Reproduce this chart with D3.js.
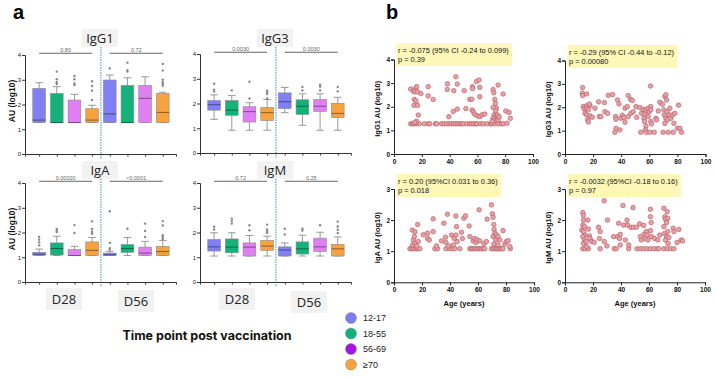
<!DOCTYPE html>
<html>
<head>
<meta charset="UTF-8" />
<script src="https://d3js.org/d3.v7.min.js"></script>
<style>
  body { margin: 0; background: #fff; }
  svg { font-family: "Liberation Sans", Arial, sans-serif; }
</style>
</head>
<body>
<svg width="717" height="377"></svg>
<script>
const groups = ["12-17", "18-55", "56-69", "≥70"];
const boxColors = ["#8080f4", "#13b27b", "#e07ff4", "#f8a23f"];
const legendColors = ["#7d7cf0", "#12b07c", "#a314e0", "#f8a13f"];
const timepoints = ["D28", "D56"];
const isotypes = ["IgG1", "IgG3", "IgA", "IgM"];

// [low whisker, q1, median, q3, high whisker] ; 4 age groups at D28, then 4 at D56
const boxIgG1 = [[1.27,1.27,1.37,2.65,2.88],[1.27,1.27,1.27,2.45,2.72],[1.27,1.27,1.27,2.18,2.41],[1.27,1.27,1.37,1.83,1.97],
                 [1.27,1.27,1.62,2.99,3.19],[1.27,1.27,1.27,2.77,3.08],[1.27,1.27,2.25,2.77,3.12],[1.27,1.27,1.68,2.45,2.5]];
const outIgG1 = [[],[3.33,3.02,2.9,2.83],[3.15,3.02,2.85,2.79],[2.94,2.75,2.56,2.18],
                 [3.46],[3.69,3.39,3.33],[],[3.64,3.37,3.0,2.9,2.83,2.76]];
const boxIgG3 = [[1.36,1.73,1.95,2.12,2.35],[0.92,1.52,1.73,2.12,2.32],[0.92,1.25,1.67,1.87,2.03],[0.92,1.31,1.63,1.84,2.16],
                 [1.63,1.79,2.07,2.43,2.65],[1.12,1.56,1.89,2.15,2.39],[0.92,1.68,1.89,2.16,2.39],[0.92,1.43,1.6,2.01,2.25]];
const outIgG3 = [[2.8,2.56,2.48],[2.53],[2.88,2.2],[2.52,2.45,2.38,2.2],
                 [],[2.67,2.53],[2.76,2.68,2.53],[2.67,2.49]];
const boxIgA = [[1.07,1.08,1.12,1.2,1.33],[1.07,1.09,1.35,1.58,1.85],[1.07,1.07,1.07,1.31,1.44],[1.07,1.07,1.28,1.62,1.8],
                [1.07,1.07,1.1,1.17,1.24],[1.07,1.2,1.35,1.51,1.8],[1.07,1.07,1.17,1.41,1.64],[1.07,1.07,1.23,1.44,1.68]];
const outIgA = [[1.82,1.71,1.6,1.48],[2.14,2.07,2.02],[2.3,1.98],[2.45,2.14,2.03,1.95],
                [2.86,1.58,1.37,1.31],[2.15],[2.36,2.06,1.82],[2.46,2.28,1.89,1.82,1.74]];
const boxIgM = [[1.05,1.25,1.42,1.72,1.99],[1.05,1.18,1.41,1.74,1.99],[1.05,1.05,1.41,1.58,1.88],[1.05,1.28,1.45,1.68,1.85],
                [1.05,1.05,1.29,1.42,1.58],[1.05,1.13,1.34,1.62,1.89],[1.05,1.23,1.42,1.77,2.01],[1.05,1.05,1.34,1.52,1.82]];
const outIgM = [[2.23,2.12],[2.56,2.46,2.36],[2.29,2.09],[2.32,2.12,2.04,1.99],
                [2.15,1.92],[2.15,2.08],[2.29],[2.44,2.24,2.11,1.98]];
const pIgG1 = ["0.80", "0.72"];
const pIgG3 = ["0.0030", "0.0030"];
const pIgA = ["0.00020", "<0.0001"];
const pIgM = ["0.72", "0.25"];
const boxTicks = [0, 1, 2, 3, 4];

// correlation with age: [age, log10 AU]
const scatIgG1 = [[12,1.28],[13.4,1.28],[14.6,1.28],[16.3,1.28],[18.2,1.28],[21.8,1.28],[24.6,1.28],[25.8,1.28],[29.9,1.28],[30.6,1.28],
  [34.2,1.28],[35.9,1.28],[37.8,1.28],[39.5,1.28],[40.9,1.28],[42.6,1.28],[44,1.28],[45.5,1.28],[46.9,1.28],[48.6,1.28],[49.8,1.28],
  [52.2,1.28],[54.5,1.28],[55.7,1.28],[57.4,1.28],[58.9,1.28],[59.8,1.28],[62.2,1.28],[64.1,1.28],[67,1.28],[69.6,1.28],[70.3,1.28],
  [72.5,1.28],[74.9,1.28],[77.3,1.28],[78.5,1.28],
  [12,2.75],[13.9,2.66],[15.6,2.77],[16.3,2.85],[15,2.63],[17,2.63],[19.4,2.56],[14.6,2.31],[15.8,2.25],[14.4,2.06],[17,2.06],
  [17.5,1.65],[16.3,1.38],[15,1.34],[24.6,2.85],[24.6,2.46],[28.2,2.31],[38.5,2.97],[38.3,2.73],[39.5,1.58],[42.6,1.8],[43,2.68],
  [44.5,3.27],[45.5,2.96],[45.5,1.9],[50.5,2.68],[51.7,1.92],[54.5,2.31],[56,2.32],[56.5,2.85],[56.5,2.77],[56.2,1.86],[57,1.79],
  [57.9,1.69],[59.3,3.07],[61.2,3.13],[61.7,2.82],[61.7,2.42],[59.8,1.62],[61.7,1.58],[63.4,1.66],[65.3,1.69],[71.3,2.73],[71.8,2.59],
  [72.5,2.31],[73,2.14],[73.7,1.93],[74.9,2.92],[71.3,1.97],[73,1.82],[72,1.65],[73.2,1.58],[74.4,1.65],[71.3,1.51],[71.8,1.41],
  [74.9,1.44],[70.6,1.38],[75.6,1.58],[78.5,2.54],[80.4,1.82],[82.8,1.76],[83.7,1.51],[81.3,1.3]];
const scatIgG3 = [[12.6,2.84],[12.3,2.6],[12.6,2.5],[15.4,2.57],[13,2.03],[13.7,1.93],[15.2,2.06],[15.4,1.96],[16.6,1.89],[14.2,1.74],
  [15.4,1.67],[17.8,2.07],[17.8,1.63],[16.1,1.46],[16.6,1.37],[19.4,1.57],[17.3,2.14],[21.3,1.96],[23.9,2.23],[24.4,1.6],[25.6,1.6],
  [28,2.2],[28.4,1.81],[30.8,2.51],[30.3,1.74],[33.9,2.54],[35.5,0.93],[36.3,1.1],[36,1.6],[36.3,1.49],[37.4,2.31],[38.4,2.14],
  [39.1,1.03],[39.8,1.53],[40.8,1.66],[42,1.56],[42.7,1.36],[42.7,1.96],[44.3,2.03],[45,2.5],[45,1.6],[46.7,2.34],[47.9,2.29],
  [46.9,1.74],[48.6,1.81],[50.5,2.03],[51,1.57],[53.3,1.99],[54.5,1.74],[54,0.93],[55.7,1.91],[56.2,1.53],[56.6,1.39],[56.9,1.71],
  [57.6,1.89],[57.6,1.2],[57.3,1.03],[58,0.93],[59.2,1.96],[59.2,1.6],[59.9,1.81],[60.9,2.03],[60.9,2.91],[61.1,1.89],[61.1,1.39],
  [61.6,1.29],[60.4,0.93],[63.5,0.93],[64.7,1.53],[65.2,1.46],[66.4,1.84],[67.5,2.21],[69.4,2.13],[69.9,0.93],[70.4,1.89],[71.1,2.46],
  [71.8,2.53],[72.3,2.31],[70.6,1.67],[71.8,1.53],[72.7,1.81],[73,1.46],[71.1,1.31],[73.5,0.93],[74.2,1.67],[74.6,1.96],[75.4,1.53],
  [76.5,1.67],[77,0.93],[77.5,1.31],[78.2,1.74],[80.8,2.09],[80.1,1.1],[81.8,1.1],[82.9,0.93]];
const scatIgA = [[11.4,1.08],[12.6,1.08],[13.8,1.08],[15,1.08],[16.2,1.08],[17.3,1.08],[18.5,1.08],[29.2,1.08],[31.1,1.08],[37.1,1.08],
  [39.9,1.08],[41.8,1.08],[43.5,1.08],[47,1.08],[54.2,1.08],[55.3,1.08],[56.5,1.08],[57.7,1.08],[58.9,1.08],[60.1,1.08],[61.3,1.08],
  [62.5,1.08],[63.7,1.08],[64.8,1.08],[69.6,1.08],[70.8,1.08],[72,1.08],[73.2,1.08],[74.3,1.08],[75.5,1.08],[76.7,1.08],[77.9,1.08],
  [83.1,1.08],
  [13.1,1.68],[13.8,1.36],[14.5,1.47],[15,1.62],[13.3,1.2],[15,1.25],[16.2,1.17],[16.9,1.86],[17.3,1.31],[20.9,1.53],[24,1.58],
  [24,1.41],[25.2,1.36],[28,2.04],[28,1.63],[30.4,1.17],[33.9,1.33],[35.6,1.9],[36.8,1.45],[38.2,2.19],[37.1,1.28],[38.9,1.17],
  [41.1,1.52],[42.3,1.2],[43,1.41],[44.2,2.13],[44.7,1.79],[44.2,1.52],[45.1,1.31],[48.2,1.61],[48.9,1.41],[49.9,2.06],[51.1,2.14],
  [53.7,1.81],[54.2,1.47],[56.5,1.33],[57.7,1.41],[58.4,1.28],[59.4,1.36],[60.8,2.33],[61.3,1.33],[64.4,1.25],[66,1.31],[66.5,2.03],
  [69.6,2.49],[70.3,2.2],[70.8,2.09],[71.3,1.86],[71.5,1.7],[72,1.58],[70.8,1.47],[72.7,1.36],[73.2,1.52],[74.3,1.47],[71.3,1.23],
  [74.3,1.2],[75.5,1.36],[77.9,1.66],[79.1,1.23],[80.3,1.31],[81.5,1.34],[82.7,1.15]];
const scatIgM = [[12.7,1.08],[14.4,1.08],[16.7,1.08],[25.1,1.08],[35.2,1.08],[36.6,1.08],[45.5,1.08],[51.4,1.08],[53.8,1.08],[56.2,1.08],
  [58.6,1.08],[61,1.08],[63.4,1.08],[65.8,1.08],[67,1.08],[70.6,1.08],[73,1.08],[75.4,1.08],[77.8,1.08],
  [12.7,2.24],[13.2,2.15],[13.2,2.0],[12.7,1.84],[12,1.68],[13.2,1.63],[13.9,1.79],[14.4,1.52],[12.7,1.47],[13.9,1.36],[13.2,1.25],
  [15.1,1.31],[15.6,1.15],[16.3,2.0],[16.7,1.71],[17.5,1.49],[17.9,1.41],[19.1,1.31],[20.8,1.29],[23.9,1.77],[25.1,1.63],[24.6,1.41],
  [28,2.62],[28,1.31],[30.4,2.0],[29.9,1.17],[34.7,1.47],[37.6,1.47],[38.3,1.9],[39,1.41],[39.5,1.54],[39.5,1.2],[41.4,2.47],
  [41.9,1.84],[43.1,1.36],[44.3,2.0],[44.7,1.84],[45.5,1.2],[47.1,1.77],[48.6,2.4],[49,1.77],[51,1.77],[53.3,1.88],[53.8,1.47],
  [54.5,1.36],[56.2,1.83],[56.7,1.55],[57.4,1.41],[58.1,1.63],[58.6,1.52],[59.3,1.36],[61,2.35],[61,2.11],[61.5,1.92],[61,1.66],
  [61.7,1.47],[63.9,1.41],[66.3,1.36],[67.7,1.52],[70.6,2.38],[71.3,2.11],[71.8,2.03],[72.5,1.92],[73,2.27],[73.4,2.06],[70.6,1.79],
  [71.1,1.57],[72.5,1.47],[71.8,1.36],[73.4,1.63],[74.2,1.44],[73.7,1.25],[77.3,1.74],[77.8,1.63],[81.3,1.7],[80.1,1.28],[83,1.36],[84,1.33]];
const statIgG1 = ["r = -0.075 (95% CI -0.24 to 0.099)", "p = 0.39"];
const statIgG3 = ["r = -0.29 (95% CI -0.44 to -0.12)", "p = 0.00080"];
const statIgA = ["r = 0.20 (95%CI 0.031 to 0.36)", "p = 0.018"];
const statIgM = ["r = -0.0032 (95%CI -0.18 to 0.16)", "p = 0.97"];
const ageTicks = [0, 20, 40, 60, 80, 100];

const svg = d3.select("svg");

// ---------- panel a: box plots ----------
function boxPanel(left, top, stats, outs, pvals, title, titleY, yLabel) {
  const g = svg.append("g");
  const x = d3.scaleLinear().domain([0.2, 8.75]).range([left, left + 151]);
  const y = d3.scaleLinear().domain([0, 4]).range([top + 99, top]);
  const bw = x(0.72) - x(0);

  // divider between D28 and D56
  g.append("line")
    .attr("x1", x(4.5)).attr("x2", x(4.5))
    .attr("y1", titleY + 9).attr("y2", top + 104)
    .attr("stroke", "#3f8fc4").attr("stroke-width", 1)
    .attr("stroke-dasharray", "1.5,1");

  const yAxis = g.append("g").attr("transform", `translate(${left},0)`)
    .call(d3.axisLeft(y).tickValues(boxTicks).tickFormat(d3.format("d")).tickSize(3).tickPadding(1));
  const xAxis = g.append("g").attr("transform", `translate(0,${top + 99})`)
    .call(d3.axisBottom(x).tickValues([1,2,3,4,5,6,7,8]).tickSize(2.5).tickFormat(""));
  [yAxis, xAxis].forEach(a => {
    a.select(".domain").attr("stroke", "#333").attr("stroke-width", 1);
    a.selectAll(".tick line").attr("stroke", "#333");
    a.selectAll("text").attr("font-size", 6).attr("fill", "#222");
  });

  stats.forEach((s, i) => {
    const cx = x(i + 1);
    const col = boxColors[i % 4];
    g.append("line").attr("x1", cx).attr("x2", cx).attr("y1", y(s[0])).attr("y2", y(s[4]))
      .attr("stroke", "#999").attr("stroke-width", 1);
    [s[0], s[4]].forEach(v => {
      g.append("line").attr("x1", cx - bw * 0.3).attr("x2", cx + bw * 0.3)
        .attr("y1", y(v)).attr("y2", y(v)).attr("stroke", "#999").attr("stroke-width", 1);
    });
    g.append("rect").attr("x", cx - bw / 2).attr("width", bw)
      .attr("y", y(s[3])).attr("height", Math.max(0.5, y(s[1]) - y(s[3])))
      .attr("fill", col).attr("stroke", "#8a8a8a").attr("stroke-width", 0.6);
    g.append("line").attr("x1", cx - bw / 2).attr("x2", cx + bw / 2)
      .attr("y1", y(s[2])).attr("y2", y(s[2]))
      .attr("stroke", d3.color(col).darker(1.6)).attr("stroke-width", 1);
    g.selectAll(null).data(outs[i]).join("circle")
      .attr("cx", cx).attr("cy", d => y(d)).attr("r", 1.2).attr("fill", "#888");
  });

  // significance brackets
  [[1, 4], [5, 8]].forEach((pr, k) => {
    const yy = y(4.07);
    g.append("line").attr("x1", x(pr[0])).attr("x2", x(pr[1]))
      .attr("y1", yy).attr("y2", yy).attr("stroke", "#666").attr("stroke-width", 1);
    g.append("text").attr("x", (x(pr[0]) + x(pr[1])) / 2).attr("y", yy - 1.5)
      .attr("text-anchor", "middle").attr("font-size", 5.5).attr("fill", "#666").text(pvals[k]);
  });

  // isotype title
  const tx = x(4.5) - 1;
  g.append("rect").attr("x", tx - 18).attr("y", titleY - 9).attr("width", 36).attr("height", 18).attr("fill", "#f2f2f2");
  g.append("text").attr("x", tx).attr("y", titleY).attr("dy", "0.36em")
    .attr("text-anchor", "middle").attr("font-family", "'Open Sans', sans-serif")
    .attr("font-size", 13).attr("fill", "#222").text(title);

  if (yLabel) {
    g.append("text").attr("transform", `translate(12,${top + 46}) rotate(-90)`)
      .attr("text-anchor", "middle").attr("dy", "0.35em")
      .attr("font-size", 8.5).attr("font-weight", "bold").attr("fill", "#111").text("AU (log10)");
  }
}

boxPanel(25, 55, boxIgG1, outIgG1, pIgG1, isotypes[0], 38, true);
boxPanel(200, 54, boxIgG3, outIgG3, pIgG3, isotypes[1], 38, false);
boxPanel(25, 183, boxIgA, outIgA, pIgA, isotypes[2], 170, true);
boxPanel(200, 183, boxIgM, outIgM, pIgM, isotypes[3], 170, false);

// time point labels
[[64, 299, 0], [136, 301, 1], [237, 299, 0], [309, 302, 1]].forEach(d => {
  svg.append("rect").attr("x", d[0] - 18).attr("y", d[1] - 11).attr("width", 36).attr("height", 22).attr("fill", "#f2f2f2");
  svg.append("text").attr("x", d[0]).attr("y", d[1]).attr("dy", "0.36em").attr("text-anchor", "middle")
    .attr("font-family", "'Open Sans', sans-serif").attr("font-size", 13).attr("fill", "#222").text(timepoints[d[2]]);
});

svg.append("text").attr("x", 207).attr("y", 336).attr("dy", "0.35em").attr("text-anchor", "middle")
  .attr("font-family", "Inter, sans-serif").attr("font-weight", "bold").attr("font-size", 12.5)
  .attr("fill", "#111").text("Time point post vaccination");

// legend
const leg = svg.append("g");
groups.forEach((gname, i) => {
  const yy = 318 + i * 15.5;
  leg.append("circle").attr("cx", 351).attr("cy", yy).attr("r", 5.5)
    .attr("fill", legendColors[i]).attr("stroke", "#888").attr("stroke-width", 0.5);
  leg.append("text").attr("x", 363).attr("y", yy).attr("dy", "0.35em")
    .attr("font-size", 9).attr("fill", "#222").text(gname);
});

// panel letters
svg.append("text").attr("x", 13).attr("y", 19).attr("font-size", 20).attr("font-weight", "bold").text("a");
svg.append("text").attr("x", 386).attr("y", 19).attr("font-size", 20).attr("font-weight", "bold").text("b");

// ---------- panel b: scatter vs age ----------
function scatterPanel(left, width, y0, yTop, yMax, data, yLab, stat, boxTop, xLab) {
  const g = svg.append("g");
  const x = d3.scaleLinear().domain([0, 100]).range([left, left + width]);
  const y = d3.scaleLinear().domain([0, yMax]).range([y0, yTop]);

  const ax = g.append("g").attr("transform", `translate(0,${y0})`)
    .call(d3.axisBottom(x).tickValues(ageTicks).tickSize(3).tickPadding(2));
  const ay = g.append("g").attr("transform", `translate(${left},0)`)
    .call(d3.axisLeft(y).tickValues(d3.range(0, yMax + 1)).tickFormat(d3.format("d")).tickSize(3).tickPadding(1));
  [ax, ay].forEach(a => {
    a.select(".domain").attr("stroke", "#222").attr("stroke-width", 1);
    a.selectAll(".tick line").attr("stroke", "#222");
    a.selectAll("text").attr("font-size", 6.5).attr("font-weight", "bold").attr("fill", "#111");
  });

  g.selectAll(null).data(data).join("circle")
    .attr("cx", d => x(d[0])).attr("cy", d => y(d[1])).attr("r", 2.3)
    .attr("fill", "#e6a1a6").attr("stroke", "#b0585f").attr("stroke-width", 0.6);

  const bg = g.append("rect").attr("x", left + 2.5).attr("y", boxTop).attr("height", 23)
    .attr("fill", "#fdf8b8");
  const t1 = g.append("text").attr("x", left + 4).attr("y", boxTop + 7.5).attr("dy", "0.35em")
    .attr("font-size", 7.4).attr("fill", "#111").text(stat[0]);
  g.append("text").attr("x", left + 4).attr("y", boxTop + 16.5).attr("dy", "0.35em")
    .attr("font-size", 7.4).attr("fill", "#111").text(stat[1]);
  bg.attr("width", t1.node().getComputedTextLength() + 5);

  g.append("text").attr("transform", `translate(${left - 17},${(y0 + yTop) / 2 + 2}) rotate(-90)`)
    .attr("text-anchor", "middle").attr("dy", "0.35em")
    .attr("font-size", 7.5).attr("font-weight", "bold").attr("fill", "#111").text(yLab);

  if (xLab) {
    g.append("text").attr("x", left + width / 2).attr("y", y0 + 21).attr("dy", "0.35em")
      .attr("text-anchor", "middle").attr("font-size", 7.5).attr("font-weight", "bold")
      .attr("fill", "#111").text("Age (years)");
  }
}

scatterPanel(394, 139, 154, 59.5, 4, scatIgG1, "IgG1 AU (log10)", statIgG1, 43, false);
scatterPanel(565, 140.5, 154, 60.5, 4, scatIgG3, "IgG3 AU (log10)", statIgG3, 45, false);
scatterPanel(394, 140, 282.3, 189, 3, scatIgA, "IgA AU (log10)", statIgA, 174, true);
scatterPanel(565, 140, 282.3, 189, 3, scatIgM, "IgM AU (log10)", statIgM, 174, true);
</script>
</body>
</html>
